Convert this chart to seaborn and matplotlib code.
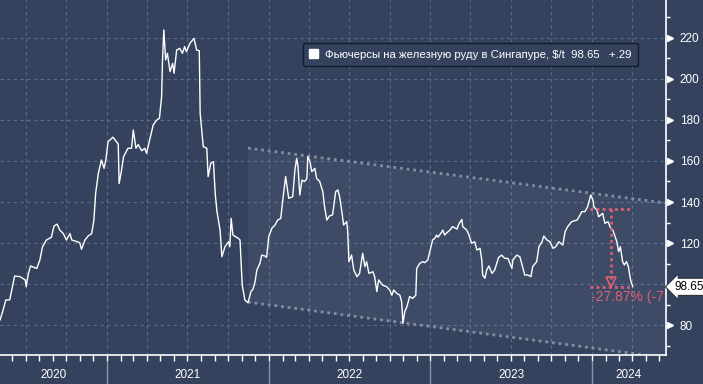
import numpy as np
import pandas as pd
import matplotlib
matplotlib.use('Agg')
import matplotlib.pyplot as plt
import matplotlib.dates as mdates
import matplotlib.transforms as mtransforms
from matplotlib.ticker import FixedLocator, MultipleLocator, NullFormatter, FixedFormatter
from matplotlib.patches import Patch
import seaborn as sns

# ---------------- data ----------------
dates = [
    '2020-05-04', '2020-05-11', '2020-05-17', '2020-05-26', '2020-06-01', '2020-06-06', '2020-06-18', '2020-06-30',
    '2020-07-02', '2020-07-07', '2020-07-12', '2020-07-26', '2020-08-02', '2020-08-08', '2020-08-17', '2020-08-28',
    '2020-09-03', '2020-09-10', '2020-09-16', '2020-09-24', '2020-10-01', '2020-10-09', '2020-10-13', '2020-10-24',
    '2020-10-31', '2020-11-04', '2020-11-12', '2020-11-19', '2020-11-27', '2020-12-02', '2020-12-06', '2020-12-12',
    '2020-12-19', '2020-12-25', '2020-12-29', '2021-01-03', '2021-01-14', '2021-01-26', '2021-01-28', '2021-02-02',
    '2021-02-07', '2021-02-17', '2021-02-25', '2021-03-01', '2021-03-07', '2021-03-12', '2021-03-20', '2021-03-27',
    '2021-03-31', '2021-04-06', '2021-04-15', '2021-04-23', '2021-04-29', '2021-05-04', '2021-05-06', '2021-05-09',
    '2021-05-13', '2021-05-17', '2021-05-23', '2021-05-29', '2021-06-01', '2021-06-07', '2021-06-14', '2021-06-20',
    '2021-06-25', '2021-06-29', '2021-07-07', '2021-07-16', '2021-07-22', '2021-07-28', '2021-07-30', '2021-08-06',
    '2021-08-14', '2021-08-17', '2021-08-23', '2021-08-29', '2021-09-02', '2021-09-06', '2021-09-13', '2021-09-17',
    '2021-09-24', '2021-10-02', '2021-10-05', '2021-10-08', '2021-10-12', '2021-10-24', '2021-10-28', '2021-11-02',
    '2021-11-08', '2021-11-15', '2021-11-22', '2021-11-26', '2021-12-01', '2021-12-05', '2021-12-12', '2021-12-16',
    '2021-12-23', '2021-12-27', '2022-01-01', '2022-01-08', '2022-01-15', '2022-01-21', '2022-01-28', '2022-02-02',
    '2022-02-08', '2022-02-15', '2022-02-24', '2022-03-01', '2022-03-05', '2022-03-08', '2022-03-12', '2022-03-17',
    '2022-03-23', '2022-03-28', '2022-03-30', '2022-04-04', '2022-04-08', '2022-04-15', '2022-04-19', '2022-04-26',
    '2022-05-03', '2022-05-07', '2022-05-12', '2022-05-18', '2022-05-25', '2022-06-01', '2022-06-06', '2022-06-10',
    '2022-06-15', '2022-06-19', '2022-06-26', '2022-06-28', '2022-07-01', '2022-07-07', '2022-07-12', '2022-07-19',
    '2022-07-25', '2022-08-01', '2022-08-06', '2022-08-10', '2022-08-15', '2022-08-24', '2022-08-28', '2022-09-02',
    '2022-09-06', '2022-09-15', '2022-09-24', '2022-10-01', '2022-10-06', '2022-10-10', '2022-10-17', '2022-10-24',
    '2022-10-28', '2022-10-31', '2022-11-04', '2022-11-09', '2022-11-15', '2022-11-22', '2022-11-29', '2022-12-01',
    '2022-12-08', '2022-12-15', '2022-12-19', '2022-12-26', '2023-01-01', '2023-01-06', '2023-01-11', '2023-01-15',
    '2023-01-18', '2023-01-27', '2023-01-29', '2023-02-02', '2023-02-07', '2023-02-14', '2023-02-20', '2023-03-02',
    '2023-03-06', '2023-03-13', '2023-03-15', '2023-03-24', '2023-03-29', '2023-04-04', '2023-04-11', '2023-04-16',
    '2023-04-23', '2023-04-27', '2023-04-29', '2023-05-04', '2023-05-08', '2023-05-13', '2023-05-20', '2023-05-26',
    '2023-06-04', '2023-06-11', '2023-06-18', '2023-06-25', '2023-07-04', '2023-07-06', '2023-07-15', '2023-07-22',
    '2023-07-29', '2023-08-02', '2023-08-09', '2023-08-16', '2023-08-20', '2023-08-29', '2023-09-03', '2023-09-10',
    '2023-09-14', '2023-09-21', '2023-09-28', '2023-10-05', '2023-10-11', '2023-10-18', '2023-10-27', '2023-11-01',
    '2023-11-07', '2023-11-16', '2023-11-28', '2023-12-02', '2023-12-09', '2023-12-16', '2023-12-22', '2023-12-29',
    '2024-01-03', '2024-01-05', '2024-01-12', '2024-01-16', '2024-01-25', '2024-01-30', '2024-02-06', '2024-02-12',
    '2024-02-17', '2024-02-26', '2024-03-01', '2024-03-05', '2024-03-10', '2024-03-14', '2024-03-19', '2024-03-23',
    '2024-03-28', '2024-04-02',
]
prices = [
    82.4, 87.3, 92.2, 92.3, 98.7, 103.9, 103.6, 102.0,
    98.7, 105.0, 108.8, 107.6, 111.7, 118.2, 121.5, 122.8,
    128.3, 129.2, 126.3, 124.6, 121.5, 124.6, 121.5, 120.7,
    120.2, 116.9, 121.5, 123.4, 124.6, 131.2, 144.2, 153.9,
    160.5, 156.4, 160.5, 169.4, 171.6, 168.3, 149.0, 154.8,
    162.1, 166.2, 166.2, 175.1, 166.2, 168.0, 165.0, 166.2,
    163.7, 169.4, 177.6, 180.0, 180.8, 191.4, 209.3, 223.9,
    209.3, 212.5, 203.6, 207.6, 202.8, 214.1, 214.9, 212.5,
    215.8, 213.3, 217.4, 219.8, 214.1, 213.8, 183.3, 167.0,
    166.2, 152.4, 158.9, 159.7, 144.2, 135.3, 126.3, 113.3,
    118.2, 120.6, 118.2, 132.0, 123.9, 122.3, 121.5, 99.5,
    92.2, 90.9, 96.5, 97.3, 101.1, 106.8, 110.1, 114.1,
    113.7, 113.0, 123.2, 127.2, 128.8, 131.2, 132.0, 141.8,
    152.4, 141.8, 142.6, 155.6, 161.3, 157.2, 143.4, 150.7,
    150.0, 151.5, 162.1, 159.7, 154.8, 156.4, 151.5, 150.0,
    145.0, 137.7, 131.2, 133.2, 133.7, 145.0, 145.9, 142.6,
    135.3, 128.8, 130.4, 126.3, 110.9, 114.1, 106.8, 103.6,
    105.2, 115.0, 108.5, 110.9, 105.2, 106.0, 103.6, 96.3,
    102.0, 99.5, 98.7, 97.1, 94.6, 97.1, 95.4, 94.6,
    91.4, 80.8, 86.5, 89.0, 93.9, 93.0, 94.6, 107.6,
    110.1, 110.9, 110.4, 111.7, 117.0, 121.5, 122.3, 123.9,
    122.8, 125.5, 126.3, 123.9, 125.0, 126.3, 128.0, 126.8,
    129.2, 131.5, 128.0, 126.3, 123.9, 119.9, 120.6, 116.6,
    117.4, 111.7, 104.4, 102.8, 106.8, 108.8, 105.2, 106.8,
    113.0, 114.1, 112.5, 112.5, 107.6, 111.7, 114.1, 113.3,
    107.6, 104.4, 104.4, 103.6, 108.5, 110.9, 118.2, 120.6,
    123.4, 121.5, 120.6, 117.4, 118.2, 120.6, 119.0, 125.5,
    128.0, 130.4, 131.2, 132.5, 135.3, 135.3, 137.7, 143.4,
    141.0, 137.7, 136.1, 132.8, 134.5, 129.6, 130.4, 127.2,
    126.3, 120.6, 115.8, 118.2, 110.9, 109.3, 110.9, 108.5,
    102.0, 98.65,
]

channel_dates = ['2021-11-15', '2024-06-16']
channel_top = [166.3, 139.5]
channel_bottom = [91.2, 64.0]

drop_dates = ['2023-12-27', '2024-03-31']
drop_mid_date = '2024-02-12'
drop_text_date = '2023-12-30'
drop_high = 136.77
last_price = 98.65
drop_label = '-27.87% (-7'

ytick_vals = [80, 100, 120, 140, 160, 180, 200, 220]
ytick_labels = ['80', '', '120', '140', '160', '180', '200', '220']
year_labels = ['2020', '2021', '2022', '2023', '2024']
year_starts = ['2020-01-01', '2021-01-01', '2022-01-01', '2023-01-01', '2024-01-01', '2025-01-01']
legend_label = 'Фьючерсы на железную руду в Сингапуре, $/t  98.65   +.29'
last_label = '98.65'

x_start, x_end = '2020-05-04', '2024-06-16'
y_min, y_max = 65.4, 238.5

# ---------------- style ----------------
sns.set_style('dark')
plt.rcParams['font.family'] = ['Liberation Sans', 'DejaVu Sans']
BG = '#34425e'
GRID = '#5a6a8b'
PINK = '#dc5f74'

fig = plt.figure(figsize=(7.03, 3.84), dpi=100, facecolor=BG)
ax = fig.add_axes([0, 29 / 384, 666 / 703, 355 / 384])
ax.set_facecolor(BG)

df = pd.DataFrame({'date': pd.to_datetime(dates), 'price': prices})

# channel
cd = pd.to_datetime(channel_dates)
ax.fill_between(cd, channel_bottom, channel_top, color='white', alpha=0.05, lw=0, zorder=1)
ax.plot(cd, channel_top, color='#a3abbb', ls=(0, (1, 1.4)), lw=2.0, alpha=0.7, zorder=2)
ax.plot(cd, channel_bottom, color='#a3abbb', ls=(0, (1, 1.4)), lw=2.0, alpha=0.7, zorder=2)

sns.lineplot(data=df, x='date', y='price', ax=ax, color='white', lw=1.0, zorder=5)

# drop measurement
dd = pd.to_datetime(drop_dates)
dm = pd.Timestamp(drop_mid_date)
ax.plot(dd, [drop_high, drop_high], color=PINK, ls=(0, (1, 1.2)), lw=2, zorder=6)
ax.plot(dd, [last_price, last_price], color=PINK, ls=(0, (1, 1.2)), lw=2, zorder=6)
ax.plot([dm, dm], [drop_high, 102.5], color=PINK, ls=(0, (1, 1.2)), lw=2, zorder=6)
ax.plot([dm], [101.0], marker='v', ms=7, mfc='none', mec=PINK, mew=1.2, ls='none', zorder=6)
ax.text(pd.Timestamp(drop_text_date), 93.8, drop_label, color=PINK, fontsize=10,
        va='center', ha='left', clip_on=True, zorder=7)

ax.set_xlim(pd.Timestamp(x_start), pd.Timestamp(x_end))
ax.set_ylim(y_min, y_max)
ax.set_xlabel('')
ax.set_ylabel('')

# x axis
ax.xaxis.set_major_locator(mdates.MonthLocator(bymonth=[1, 4, 7, 10]))
ax.xaxis.set_minor_locator(mdates.MonthLocator())
ax.xaxis.set_major_formatter(NullFormatter())
ax.tick_params(axis='x', which='both', direction='out', length=4, width=1, color='white',
               bottom=True, labelbottom=False)

# y axis
ax.yaxis.tick_right()
ax.yaxis.set_major_locator(FixedLocator(ytick_vals))
ax.yaxis.set_major_formatter(FixedFormatter(ytick_labels))
ax.yaxis.set_minor_locator(MultipleLocator(10))
ax.tick_params(axis='y', which='major', length=0, pad=10, labelcolor='white', labelsize=8.5,
               right=True, left=False)
ax.tick_params(axis='y', which='minor', length=3, width=1, color='white', direction='out',
               right=True, left=False)

ax.grid(True, which='major', color=GRID, ls=(0, (3, 3)), lw=0.8)
ax.grid(False, which='minor')
for s in ['top', 'left']:
    ax.spines[s].set_visible(False)
for s in ['right', 'bottom']:
    ax.spines[s].set_visible(True)
    ax.spines[s].set_color('white')
    ax.spines[s].set_linewidth(1.2)

# tick arrows on right axis
ty = mtransforms.blended_transform_factory(ax.transAxes, ax.transData)
arrow_vals = [v for v, l in zip(ytick_vals, ytick_labels) if l]
ax.plot([1.006] * len(arrow_vals), arrow_vals, ls='none', marker='>', ms=5, color='white',
        transform=ty, clip_on=False, zorder=8)

# last value box
ax.text(1.013, last_price, last_label, transform=ty, fontsize=8.5, color='black', va='center',
        ha='left', clip_on=False, zorder=9,
        bbox=dict(boxstyle='larrow,pad=0.22', fc='white', ec='#2a2f3a', lw=0.8))

# year band
tx = mtransforms.blended_transform_factory(ax.transData, ax.transAxes)
ys = pd.to_datetime(year_starts)
xs0, xs1 = pd.Timestamp(x_start), pd.Timestamp(x_end)
for d in ys[1:-1]:
    ax.plot([d, d], [-0.017, -0.085], color='#8b95a8', lw=1, transform=tx, clip_on=False)
for lab, a, b in zip(year_labels, ys[:-1], ys[1:]):
    a = max(a, xs0)
    b = min(b, xs1)
    mid = a + (b - a) / 2
    ax.text(mid, -0.056, lab, transform=tx, ha='center', va='center', color='white', fontsize=8.5)

# legend
handle = Patch(facecolor='white', edgecolor='white')
leg = ax.legend([handle], [legend_label], loc='upper left', bbox_to_anchor=(303 / 666, 1 - 43 / 355),
                frameon=True, fancybox=True, facecolor=BG, edgecolor='#141a28', framealpha=1,
                fontsize=8.2, labelcolor='white', handlelength=0.8, handleheight=0.8,
                handletextpad=0.6, borderpad=0.55, borderaxespad=0)
leg.get_frame().set_linewidth(1.0)
leg.set_zorder(10)

fig.savefig('out.png', dpi=100, facecolor=BG)
